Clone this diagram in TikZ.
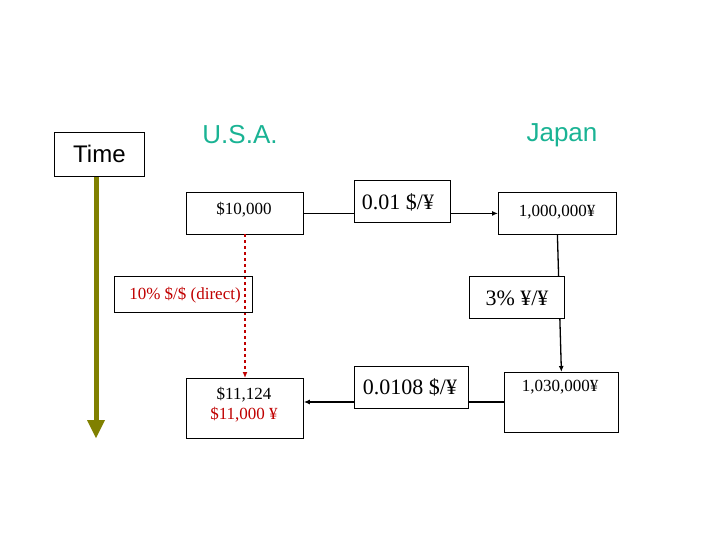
\documentclass[tikz,border=0pt]{standalone}
\usepackage{fontspec}
\setmainfont{Liberation Serif}
\newfontfamily\sansf{Liberation Sans}
\usetikzlibrary{arrows.meta}
\definecolor{teal2}{HTML}{1AB394}
\definecolor{olive2}{HTML}{808000}
\definecolor{red2}{HTML}{C00000}
\begin{document}
\begin{tikzpicture}[x=1pt,y=-1pt,
  bx/.style={draw,fill=white,line width=0.8pt,inner sep=0pt,anchor=north west},
  lbl/.style={font=\fontsize{17}{20}\selectfont},
  arr/.style={line width=1.3pt,-{Latex[length=6pt,width=5pt]}}]
\useasboundingbox (0,0) rectangle (720,540);
% connectors first (behind boxes)
\coordinate (ta) at (96,176);
\coordinate (tb) at (96,438);
\draw[olive2,line width=5pt] (ta) -- (96,420);
\fill[olive2] (87,420) -- (105,420) -- (tb) -- cycle;
\node[bx,minimum width=90pt,minimum height=44pt] (time) at (54,132) {};
\node[font=\sansf\fontsize{24}{28}\selectfont] at (time.center) {Time};
\node[teal2,font=\sansf\fontsize{26}{30}\selectfont] (usa) at (240,135) {U.S.A.};
\node[teal2,font=\sansf\fontsize{26}{30}\selectfont] (jp) at (562,135) {Japan};
\node[bx,minimum width=117pt,minimum height=42pt] (a) at (186,192) {};
\node[bx,minimum width=118pt,minimum height=42pt] (b) at (498,192) {};
\node[bx,minimum width=117pt,minimum height=60pt] (c) at (186,378) {};
\node[bx,minimum width=114pt,minimum height=60pt] (d) at (504,372) {};
\draw[arr] (a.east) -- (b.west);
\draw[arr] (b.south) -- (d.north);
\draw[arr] (d.west|-396,402) -- (c.east|-396,402);
\draw[red2,line width=1.3pt,dashed,-{Latex[length=6pt,width=5pt]}] (245,234) -- (245,378);
\node[bx,minimum width=96pt,minimum height=42pt] (e) at (354,180) {};
\node[bx,minimum width=114pt,minimum height=42pt] (f) at (354,366) {};
\node[draw,line width=0.8pt,inner sep=0pt,anchor=north west,minimum width=138pt,minimum height=36pt] (g) at (114,276) {};
\node[bx,minimum width=95pt,minimum height=42pt] (h) at (469,276) {};
\node[lbl] at (244,210) {\$10,000};
\node[lbl] at (557,212) {1,000,000¥};
\node[font=\fontsize{22}{26}\selectfont] at (398,202) {0.01 \$/¥};
\node[font=\fontsize{22}{26}\selectfont] at (410,387) {0.0108 \$/¥};
\node[red2,lbl] at (185,295) {10\% \$/\$ (direct)};
\node[font=\fontsize{22}{26}\selectfont] at (517,298) {3\% ¥/¥};
\node[lbl,align=center] at (244,405) {\$11,124\\\textcolor{red2}{\$11,000 ¥}};
\node[lbl] at (560,387) {1,030,000¥};
\end{tikzpicture}
\end{document}
